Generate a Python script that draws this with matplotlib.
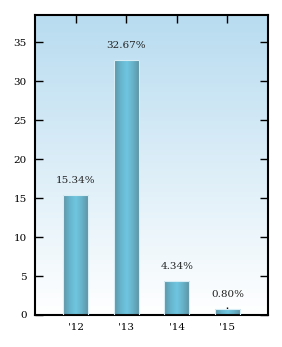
import numpy as np
import matplotlib
matplotlib.use("Agg")
import matplotlib.pyplot as plt
from matplotlib.colors import LinearSegmentedColormap
from matplotlib.patches import Rectangle

categories = ["'12", "'13", "'14", "'15"]
values = [15.34, 32.67, 4.34, 0.80]
labels = ["15.34%", "32.67%", "4.34%", "0.80%"]
yticks = [0, 5, 10, 15, 20, 25, 30, 35]

plt.rcParams['font.family'] = ['DejaVu Serif']
fig = plt.figure(figsize=(2.82, 3.47), dpi=100)
ax = fig.add_axes([35/282, 1-315/347, (268-35)/282, (315-15)/347])

ax.set_xlim(-0.8, 3.8)
ax.set_ylim(0, 38.5)

# background gradient
bg = LinearSegmentedColormap.from_list("bg", ["#ffffff", "#b8dcf0"])
grad = np.linspace(0, 1, 256).reshape(-1, 1)
ax.imshow(grad, cmap=bg, aspect='auto', origin='lower',
          extent=[-0.8, 3.8, 0, 38.5], zorder=0)

barcmap = LinearSegmentedColormap.from_list(
    "bar", ["#5f93a3", "#66b4cc", "#6fc6e0", "#66b0c6", "#5e8f9f"])
hgrad = np.linspace(0, 1, 256).reshape(1, -1)
x = np.arange(len(categories))
bars = ax.bar(x, values, width=0.5, color='none', edgecolor='#d8eef6', linewidth=0.8, zorder=3)
for b, v, lab in zip(bars, values, labels):
    x0, w = b.get_x(), b.get_width()
    im = ax.imshow(hgrad, cmap=barcmap, aspect='auto', extent=[x0, x0 + w, 0, v], zorder=2)
    im.set_clip_path(b)
    ax.text(x0 + w / 2, v + 1.3, lab, ha='center', va='bottom', fontsize=7.5, color='#222222')

ax.set_xlim(-0.8, 3.8)
ax.set_ylim(0, 38.5)
ax.set_xticks(x)
ax.set_xticklabels(categories)
ax.set_yticks(yticks)
ax.tick_params(direction='in', top=True, right=True, length=6, width=1, labelsize=7.5, colors='black', pad=6)
for s in ax.spines.values():
    s.set_linewidth(1.5)

fig.savefig("out.png", dpi=100)
